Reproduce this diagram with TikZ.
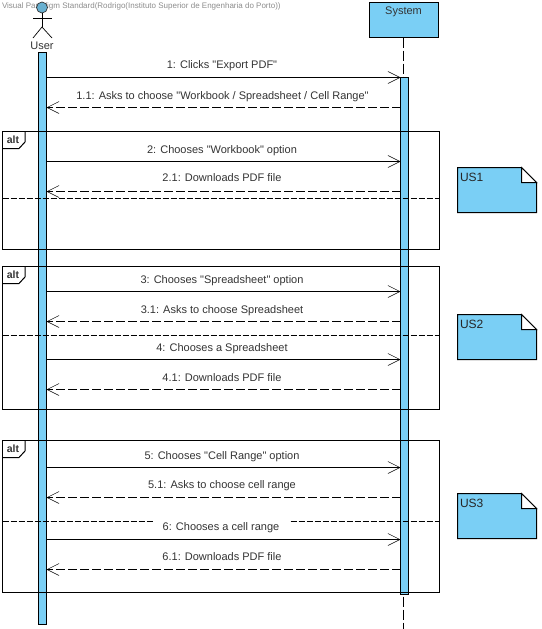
\documentclass[tikz,border=0pt]{standalone}
\usepackage{fontspec}
\setmainfont{Liberation Sans}[Ligatures=TeXOff]
\usetikzlibrary{arrows.meta}
\definecolor{vpblue}{HTML}{7ACFF5}
\definecolor{txt}{HTML}{333333}
\tikzset{
  x=1pt,y=-1pt,
  every node/.style={inner sep=0pt,outer sep=0pt},
  bar/.style={draw=black,fill=vpblue,line width=1pt,minimum width=8pt},
  lifebox/.style={draw=black,fill=vpblue,line width=1pt,minimum width=69pt,minimum height=35pt},
  actorline/.style={draw=black,line width=0.7pt},
  lifeline/.style={draw=black,line width=1pt,dash pattern=on 10pt off 3pt},
  call/.style={draw=black,line width=1pt,-{Straight Barb[length=12pt,width=12pt,line width=0.5pt]}},
  reply/.style={draw=black,line width=1pt,dash pattern=on 9pt off 3pt,-{Straight Barb[length=12pt,width=12pt,line width=0.5pt]}},
  msg/.style={font=\fontsize{11}{13}\selectfont,text=txt},
  cover/.style={msg,fill=white,inner xsep=10pt,inner ysep=3pt},
  frameline/.style={draw=black,line width=1pt},
  guard/.style={draw=black,line width=0.9pt,dash pattern=on 6pt off 2pt},
  alttext/.style={font=\bfseries\fontsize{10.5}{12}\selectfont,text=txt},
  notebody/.style={draw=black,fill=vpblue,line width=1pt},
  notetext/.style={font=\fontsize{12}{14}\selectfont,text=black!85,anchor=west},
}
\newcommand{\altframe}[4]{% name, top, guard y, bottom
  \node[minimum width=437pt,minimum height={#4-#2},anchor=north west,frameline] (#1) at (2.5,#2) {};
  \draw[frameline] (#1.north west) ++(22.5,0) -- ++(0,10.5) -- ++(-6,6.5) -- ++(-16.5,0);
  \node[alttext] (#1t) at (13,#2+8.5) {alt};
  \draw[guard] (#1.west |- 0,#3) -- (#1.east |- 0,#3);
}
\newcommand{\usnote}[3]{% name, top, text
  \node[minimum width=79pt,minimum height=45pt,anchor=north west] (#1) at (457.5,#2) {};
  \filldraw[notebody] (#1.north west) -- ++(64,0) -- ++(15,15) -- (#1.south east) -- (#1.south west) -- cycle;
  \filldraw[draw=black,fill=white,line width=1pt] (#1.north east) ++(-15,0) -- ++(15,15) -- ++(-15,0) -- cycle;
  \node[notetext] (#1t) at (460,#2+9.5) {#3};
}
\begin{document}
\begin{tikzpicture}
\useasboundingbox (0,0) rectangle (541,629);
\node[font=\fontsize{8}{9}\selectfont,text=black!45,anchor=west] (wm) at (2,6.5) {Visual Paradigm Standard(Rodrigo(Instituto Superior de Engenharia do Porto))};
% System
\node[lifebox,anchor=north west] (sys) at (369.5,2.5) {};
\node[msg] (syst) at (403.5,11.5) {System};
\coordinate (systop) at (403.5,37.5);
\coordinate (sysend) at (403.5,629);
\draw[lifeline] (systop) -- (sysend);
% Actor
\node[circle,draw=black!80,fill=vpblue!85!black,line width=0.7pt,minimum size=11pt] (head) at (42,7.5) {};
\coordinate (hip) at (42,27);
\coordinate (larm) at (33,18);
\coordinate (rarm) at (52,18);
\coordinate (lfoot) at (33,38);
\coordinate (rfoot) at (52,38);
\draw[actorline] (head.south) -- (hip);
\draw[actorline] (larm) -- (rarm);
\draw[actorline] (lfoot) -- (hip) -- (rfoot);
\node[msg] (usert) at (42,45.5) {User};
% activations
\node[bar,minimum height=571.5pt,anchor=north] (ua) at (42.5,52.5) {};
\node[bar,minimum height=517pt,anchor=north] (sa) at (404.5,77.5) {};
% frames
\altframe{f1}{131.5}{198.5}{249.5}
\altframe{f2}{266.5}{335}{409}
\altframe{f3}{440.5}{521}{592.5}
% messages
\node[msg] (l1) at (222,66) {1: Clicks "Export PDF"};
\draw[call] (ua.east |- 0,77.5) -- (sa.west |- 0,77.5);
\node[msg] (l11) at (222.5,96.5) {1.1: Asks to choose "Workbook / Spreadsheet / Cell Range"};
\draw[reply] (sa.west |- 0,107.5) -- (ua.east |- 0,107.5);
\node[msg] (l2) at (222,150.5) {2: Chooses "Workbook" option};
\draw[call] (ua.east |- 0,161.5) -- (sa.west |- 0,161.5);
\node[msg] (l21) at (222,178) {2.1: Downloads PDF file};
\draw[reply] (sa.west |- 0,191.5) -- (ua.east |- 0,191.5);
\node[msg] (l3) at (222,281) {3: Chooses "Spreadsheet" option};
\draw[call] (ua.east |- 0,291.5) -- (sa.west |- 0,291.5);
\node[msg] (l31) at (222,311) {3.1: Asks to choose Spreadsheet};
\draw[reply] (sa.west |- 0,321.5) -- (ua.east |- 0,321.5);
\node[msg] (l4) at (222,349) {4: Chooses a Spreadsheet};
\draw[call] (ua.east |- 0,359.5) -- (sa.west |- 0,359.5);
\node[msg] (l41) at (222,378) {4.1: Downloads PDF file};
\draw[reply] (sa.west |- 0,389.5) -- (ua.east |- 0,389.5);
\node[msg] (l5) at (222,457) {5: Chooses "Cell Range" option};
\draw[call] (ua.east |- 0,467.5) -- (sa.west |- 0,467.5);
\node[msg] (l51) at (222,486) {5.1: Asks to choose cell range};
\draw[reply] (sa.west |- 0,497.5) -- (ua.east |- 0,497.5);
\node[cover] (l6) at (221,527.5) {6: Chooses a cell range};
\draw[call] (ua.east |- 0,539.5) -- (sa.west |- 0,539.5);
\node[msg] (l61) at (222,556.5) {6.1: Downloads PDF file};
\draw[reply] (sa.west |- 0,569.5) -- (ua.east |- 0,569.5);
% notes
\usnote{n1}{167.5}{US1}
\usnote{n2}{314.5}{US2}
\usnote{n3}{493.5}{US3}
\end{tikzpicture}
\end{document}
